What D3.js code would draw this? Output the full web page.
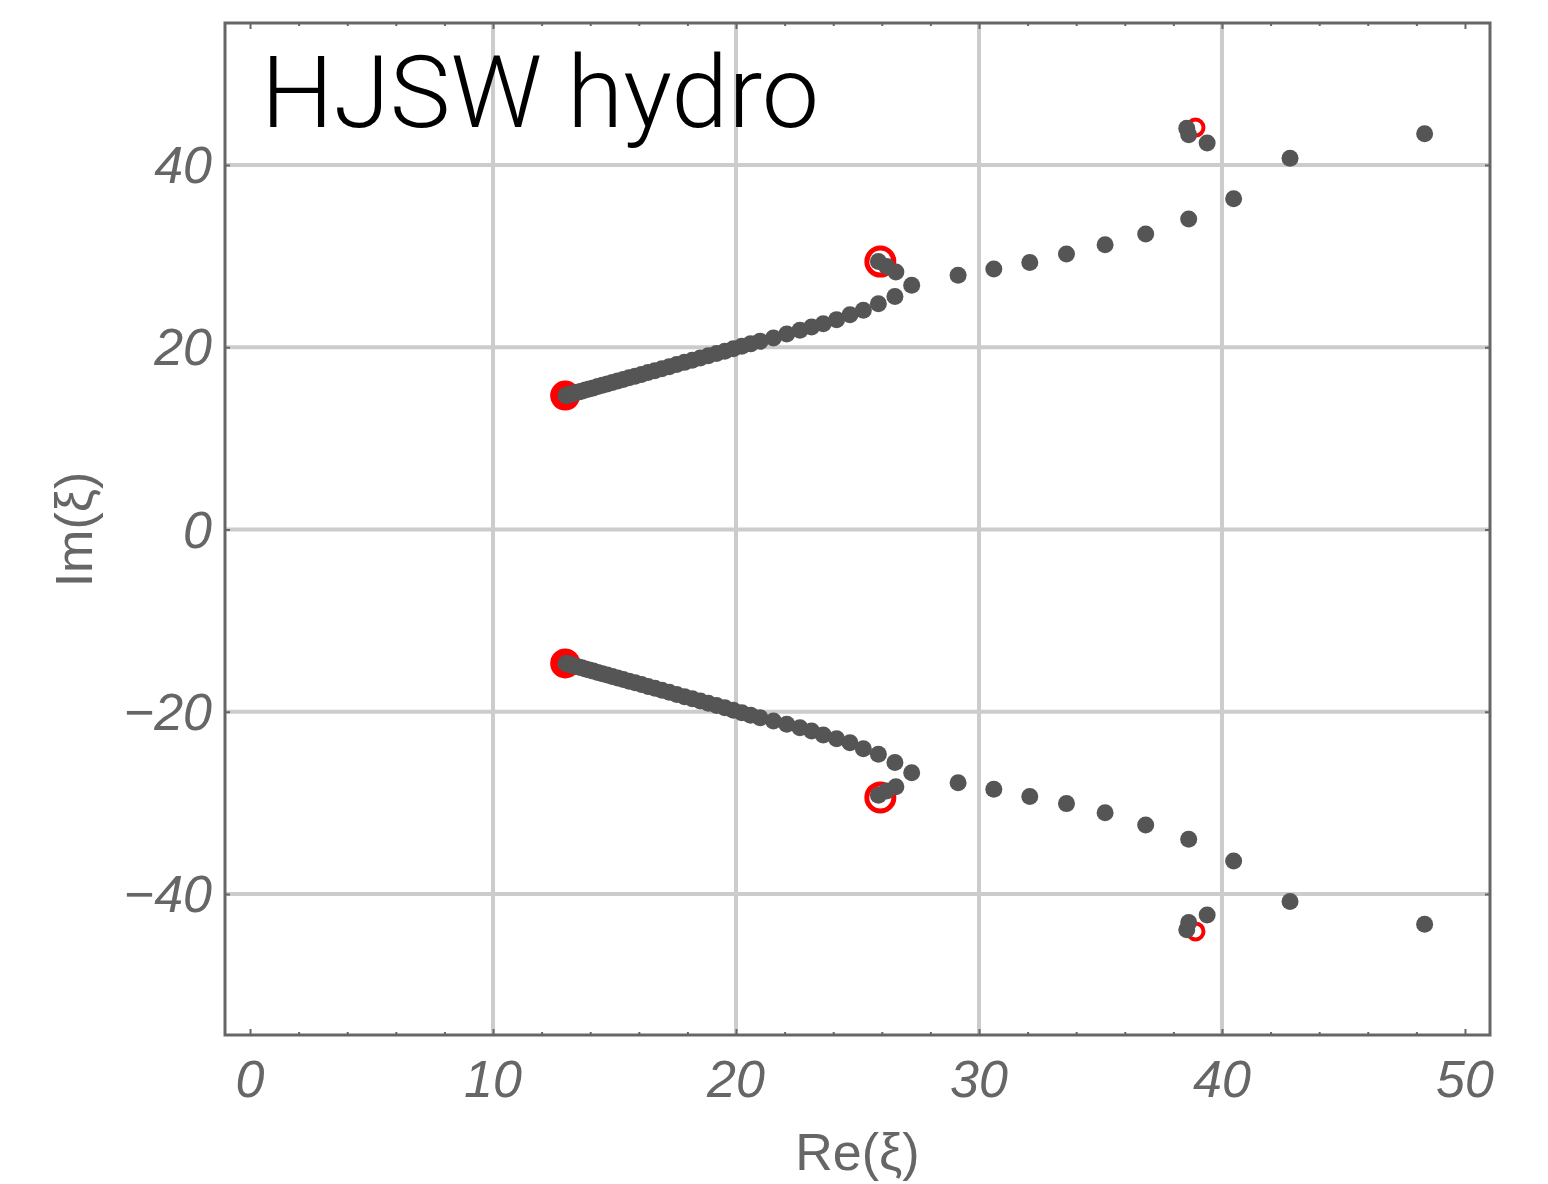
<!DOCTYPE html>
<html>
<head>
<meta charset="utf-8">
<script src="https://cdn.jsdelivr.net/npm/d3@7"></script>
<style>
  html, body { margin: 0; padding: 0; background: #fff; }
  svg { display: block; }
</style>
</head>
<body>
<svg id="chart" width="1548" height="1184"></svg>
<script>
// ---------- data ----------
const title = "HJSW hydro";
const xLabel = "Re(ξ)";
const yLabel = "Im(ξ)";
const xTicks = [0, 10, 20, 30, 40, 50];
const yTicks = [-40, -20, 0, 20, 40];
const xGrid = [10, 20, 30, 40];
const yGrid = [-40, -20, 0, 20, 40];

// upper branch, dense chain
const upperDenseRe = [13.00, 13.04, 13.09, 13.15, 13.22, 13.30, 13.40, 13.52, 13.65, 13.80, 13.96, 14.13, 14.31, 14.50, 14.70, 14.91, 15.13, 15.36, 15.60, 15.85, 16.11, 16.38, 16.66, 16.95, 17.25, 17.56, 17.88, 18.20, 18.53, 18.86, 19.20, 19.54, 19.89, 20.24, 20.60, 20.99, 21.54, 22.09, 22.63, 23.11, 23.59, 24.14, 24.69, 25.24, 25.86, 26.54, 27.23];
const upperDenseIm = [14.70, 14.73, 14.77, 14.81, 14.86, 14.92, 15.00, 15.09, 15.18, 15.30, 15.42, 15.54, 15.68, 15.82, 15.97, 16.12, 16.29, 16.46, 16.64, 16.82, 17.02, 17.22, 17.43, 17.64, 17.87, 18.10, 18.34, 18.57, 18.82, 19.07, 19.32, 19.57, 19.83, 20.10, 20.37, 20.65, 21.02, 21.46, 21.86, 22.22, 22.59, 23.03, 23.57, 24.05, 24.78, 25.58, 26.79];
// upper branch, sparse continuation
const upperSparseRe = [29.14, 30.61, 32.09, 33.60, 35.19, 36.86, 38.63, 40.48, 42.80, 48.34];
const upperSparseIm = [27.89, 28.58, 29.31, 30.23, 31.25, 32.42, 34.06, 36.29, 40.75, 43.42];
// small clusters near the 2nd and 3rd red markers (upper)
const upperClusterRe = [25.86, 26.20, 26.58, 38.55, 38.63, 39.39];
const upperClusterIm = [29.42, 28.87, 28.26, 44.04, 43.31, 42.40];

// lower branch, dense chain
const lowerDenseRe = [13.00, 13.04, 13.09, 13.15, 13.22, 13.30, 13.40, 13.52, 13.65, 13.80, 13.96, 14.13, 14.31, 14.50, 14.70, 14.91, 15.13, 15.36, 15.60, 15.85, 16.11, 16.38, 16.66, 16.95, 17.25, 17.56, 17.88, 18.20, 18.53, 18.86, 19.20, 19.54, 19.89, 20.24, 20.60, 20.99, 21.54, 22.09, 22.63, 23.11, 23.59, 24.14, 24.69, 25.24, 25.86, 26.54, 27.23];
const lowerDenseIm = [-14.70, -14.73, -14.77, -14.81, -14.86, -14.92, -15.00, -15.09, -15.18, -15.30, -15.42, -15.54, -15.68, -15.82, -15.97, -16.12, -16.29, -16.46, -16.64, -16.82, -17.02, -17.22, -17.43, -17.64, -17.87, -18.10, -18.34, -18.57, -18.82, -19.07, -19.32, -19.57, -19.83, -20.10, -20.37, -20.65, -21.02, -21.38, -21.75, -22.11, -22.55, -22.95, -23.39, -24.05, -24.67, -25.58, -26.68];
const lowerSparseRe = [29.14, 30.61, 32.09, 33.60, 35.19, 36.86, 38.63, 40.48, 42.80, 48.34];
const lowerSparseIm = [-27.78, -28.51, -29.31, -30.08, -31.07, -32.42, -33.99, -36.37, -40.83, -43.31];
const lowerClusterRe = [25.86, 26.20, 26.58, 38.55, 38.63, 39.39];
const lowerClusterIm = [-29.15, -28.69, -28.24, -43.93, -43.13, -42.29];

// red reference markers
const redRe = [12.97, 12.97, 25.94, 25.94, 38.91, 38.91];
const redIm = [14.70, -14.70, 29.40, -29.40, 44.10, -44.10];
const redKind = ["disc", "disc", "ring", "ring", "smallring", "smallring"];

// ---------- layout ----------
const svg = d3.select("#chart");
const pLeft = 225, pRight = 1490, pTop = 23, pBottom = 1035;
const x = d3.scaleLinear().domain([-1.03, 51.03]).range([pLeft, pRight]);
const y = d3.scaleLinear().domain([-55.47, 55.58]).range([pBottom, pTop]);

const axisColor = "#666666";
const gridColor = "#cccccc";
const pointColor = "#555555";
const font = "'Liberation Sans', Arial, Helvetica, sans-serif";

// grid
svg.append("g").selectAll("line").data(xGrid).join("line")
  .attr("x1", d => x(d)).attr("x2", d => x(d))
  .attr("y1", pTop).attr("y2", pBottom)
  .attr("stroke", gridColor).attr("stroke-width", 4);
svg.append("g").selectAll("line").data(yGrid).join("line")
  .attr("x1", pLeft).attr("x2", pRight)
  .attr("y1", d => y(d)).attr("y2", d => y(d))
  .attr("stroke", gridColor).attr("stroke-width", 4);

// axes with inward ticks
const xMinor = d3.range(0, 51, 2).filter(v => v % 10 !== 0);

function ticks(g, axisGen, vals, size) {
  g.call(axisGen.tickValues(vals).tickSize(size).tickFormat(""));
  g.select(".domain").remove();
  g.selectAll(".tick line").attr("stroke", axisColor).attr("stroke-width", 2);
}
ticks(svg.append("g").attr("transform", `translate(0,${pBottom})`), d3.axisTop(x), xTicks, 6);
ticks(svg.append("g").attr("transform", `translate(0,${pBottom})`), d3.axisTop(x), xMinor, 3);
ticks(svg.append("g").attr("transform", `translate(0,${pTop})`), d3.axisBottom(x), xTicks, 6);
ticks(svg.append("g").attr("transform", `translate(0,${pTop})`), d3.axisBottom(x), xMinor, 3);
ticks(svg.append("g").attr("transform", `translate(${pLeft},0)`), d3.axisRight(y), yTicks, 5);
ticks(svg.append("g").attr("transform", `translate(${pRight},0)`), d3.axisLeft(y), yTicks, 5);

// frame
svg.append("rect")
  .attr("x", pLeft).attr("y", pTop)
  .attr("width", pRight - pLeft).attr("height", pBottom - pTop)
  .attr("fill", "none").attr("stroke", axisColor).attr("stroke-width", 3);

// tick labels
const fmt = v => v < 0 ? "\u2212" + Math.abs(v) : String(v);
svg.append("g").selectAll("text").data(xTicks).join("text")
  .attr("x", d => x(d)).attr("y", 1097)
  .attr("text-anchor", "middle")
  .attr("font-family", font).attr("font-style", "italic")
  .attr("font-size", 52).attr("fill", axisColor)
  .text(fmt);
svg.append("g").selectAll("text").data(yTicks).join("text")
  .attr("x", 212).attr("y", d => y(d) + 18)
  .attr("text-anchor", "end")
  .attr("font-family", font).attr("font-style", "italic")
  .attr("font-size", 52).attr("fill", axisColor)
  .text(fmt);

// axis titles
svg.append("text")
  .attr("x", (x(0) + x(50)) / 2).attr("y", 1170)
  .attr("text-anchor", "middle")
  .attr("font-family", font).attr("font-size", 52).attr("fill", axisColor)
  .text(xLabel);
svg.append("text")
  .attr("transform", `translate(92,${y(0)}) rotate(-90)`)
  .attr("text-anchor", "middle")
  .attr("font-family", font).attr("font-size", 52).attr("fill", axisColor)
  .text(yLabel);

// title (light sans, like Helvetica Neue)
svg.append("text")
  .attr("x", 261).attr("y", 127)
  .attr("font-family", "Roboto, 'Liberation Sans', Arial, sans-serif")
  .attr("font-weight", 300)
  .attr("font-size", 100).attr("fill", "#000")
  .attr("textLength", 558).attr("lengthAdjust", "spacingAndGlyphs")
  .text(title);

// red markers (beneath the grey points)
const red = redRe.map((v, i) => ({ re: v, im: redIm[i], kind: redKind[i] }));
svg.append("g").selectAll("circle").data(red).join("circle")
  .attr("cx", d => x(d.re)).attr("cy", d => y(d.im))
  .attr("r", d => d.kind === "disc" ? 15 : d.kind === "ring" ? 13.5 : 8)
  .attr("fill", d => d.kind === "disc" ? "#ff0000" : "none")
  .attr("stroke", d => d.kind === "disc" ? "none" : "#ff0000")
  .attr("stroke-width", d => d.kind === "ring" ? 5 : 4);

// grey points
function pts(re, im) { return re.map((v, i) => ({ re: v, im: im[i] })); }
const allPts = [].concat(
  pts(upperDenseRe, upperDenseIm), pts(upperSparseRe, upperSparseIm), pts(upperClusterRe, upperClusterIm),
  pts(lowerDenseRe, lowerDenseIm), pts(lowerSparseRe, lowerSparseIm), pts(lowerClusterRe, lowerClusterIm)
);
svg.append("g").selectAll("circle").data(allPts).join("circle")
  .attr("cx", d => x(d.re)).attr("cy", d => y(d.im))
  .attr("r", 8.5).attr("fill", pointColor);
</script>
</body>
</html>
